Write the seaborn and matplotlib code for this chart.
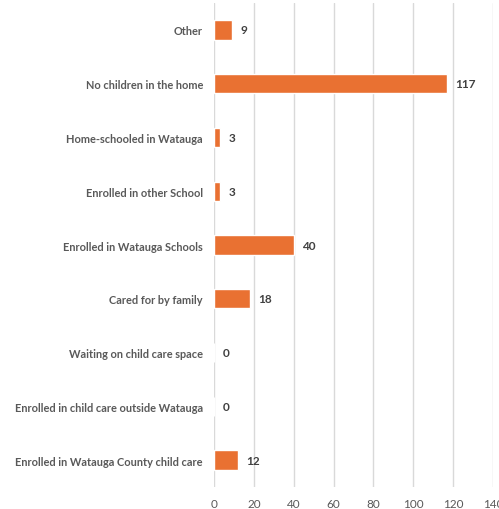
import matplotlib
matplotlib.use("Agg")
import matplotlib.pyplot as plt
import seaborn as sns
import pandas as pd

categories = [
    "Other",
    "No children in the home",
    "Home-schooled in Watauga",
    "Enrolled in other School",
    "Enrolled in Watauga Schools",
    "Cared for by family",
    "Waiting on child care space",
    "Enrolled in child care outside Watauga",
    "Enrolled in Watauga County child care",
]
counts = [9, 117, 3, 3, 40, 18, 0, 0, 12]
x_ticks = [0, 20, 40, 60, 80, 100, 120, 140]

df = pd.DataFrame({"category": categories, "count": counts})

sns.set_style("white")
plt.rcParams["font.family"] = ["Lato", "DejaVu Sans"]

text_color = "#595959"
bar_color = "#E97132"

fig = plt.figure(figsize=(4.99, 5.10), dpi=100)
ax = fig.add_axes([214 / 499, 22 / 510, 279 / 499, 484 / 510])

sns.barplot(data=df, x="count", y="category", orient="h", color=bar_color,
            width=0.36, ax=ax, saturation=1)

ax.set_xlim(0, 140)
ax.set_xticks(x_ticks)
ax.set_xticklabels([str(t) for t in x_ticks], color=text_color, fontsize=8.5)
ax.tick_params(axis="x", length=0, pad=8)
ax.tick_params(axis="y", length=0, pad=8)
for lbl in ax.get_yticklabels():
    lbl.set_fontweight("bold")
    lbl.set_color(text_color)
    lbl.set_fontsize(7.9)

ax.set_xlabel("")
ax.set_ylabel("")
ax.grid(axis="x", color="#D9D9D9", linewidth=1)
ax.set_axisbelow(True)
for s in ax.spines.values():
    s.set_visible(False)

for container in ax.containers:
    ax.bar_label(container, labels=[str(v) for v in counts], padding=6,
                 fontsize=8.5, fontweight="bold", color="#404040")

fig.savefig("out.png", dpi=100)
